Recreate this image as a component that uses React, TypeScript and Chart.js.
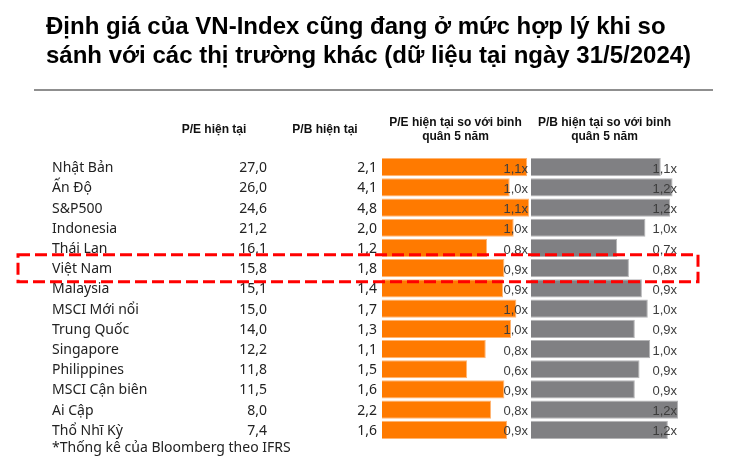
import React, { useEffect, useRef } from "react";
import { Chart, registerables } from "chart.js";

Chart.register(...registerables);

const titleLines = [
  "Định giá của VN-Index cũng đang ở mức hợp lý khi so",
  "sánh với các thị trường khác (dữ liệu tại ngày 31/5/2024)",
];

const markets = [
  "Nhật Bản",
  "Ấn Độ",
  "S&P500",
  "Indonesia",
  "Thái Lan",
  "Việt Nam",
  "Malaysia",
  "MSCI Mới nổi",
  "Trung Quốc",
  "Singapore",
  "Philippines",
  "MSCI Cận biên",
  "Ai Cập",
  "Thổ Nhĩ Kỳ",
];

const peCurrent = [27.0, 26.0, 24.6, 21.2, 16.1, 15.8, 15.1, 15.0, 14.0, 12.2, 11.8, 11.5, 8.0, 7.4];
const pbCurrent = [2.1, 4.1, 4.8, 2.0, 1.2, 1.8, 1.4, 1.7, 1.3, 1.1, 1.5, 1.6, 2.2, 1.6];
const peVs5y = [1.09, 0.96, 1.105, 0.99, 0.79, 0.92, 0.91, 1.01, 0.97, 0.78, 0.64, 0.92, 0.82, 0.94];
const pbVs5y = [1.1, 1.2, 1.18, 0.97, 0.73, 0.83, 0.94, 0.99, 0.88, 1.01, 0.92, 0.88, 1.246, 1.16];

const headerPE = "P/E hiện tại";
const headerPB = "P/B hiện tại";
const headerPERatio = ["P/E hiện tại so với binh", "quân 5 năm"];
const headerPBRatio = ["P/B hiện tại so với binh", "quân 5 năm"];
const footnote = "*Thống kê của Bloomberg theo IFRS";
const highlightMarket = "Việt Nam";

const fmt = (v: number) => v.toFixed(1).replace(".", ",");

const COL_W = 147;
const COL_GAP = 2;

const tablePlugin = {
  id: "tableText",
  afterDraw(chart: any) {
    const ctx = chart.ctx as CanvasRenderingContext2D;
    const yS = chart.scales.y;
    const xPE = chart.scales.xPE;
    const xPB = chart.scales.xPB;
    const maxPE = Math.max(...peVs5y);
    const maxPB = Math.max(...pbVs5y);
    const peRight = xPE.getPixelForValue(maxPE);
    const pbRight = xPB.getPixelForValue(maxPB);
    const peLeft = xPE.getPixelForValue(0);
    const pbLeft = xPB.getPixelForValue(0);
    ctx.save();
    ctx.textBaseline = "middle";

    // headers
    ctx.fillStyle = "#111";
    ctx.font = "bold 12px Arial, 'Liberation Sans'";
    ctx.textAlign = "center";
    ctx.fillText(headerPE, 214, 130);
    ctx.fillText(headerPB, 325, 130);
    const peMid = (peLeft + peRight) / 2;
    const pbMid = (pbLeft + pbRight) / 2;
    headerPERatio.forEach((t, k) => ctx.fillText(t, peMid, 123 + k * 13.5));
    headerPBRatio.forEach((t, k) => ctx.fillText(t, pbMid, 123 + k * 13.5));

    // rows
    markets.forEach((m, i) => {
      const y = yS.getPixelForValue(i);
      ctx.fillStyle = "#222";
      ctx.font = "14px 'Noto Sans'";
      ctx.textAlign = "left";
      ctx.fillText(m, 52, y + 1);
      ctx.textAlign = "right";
      ctx.fillText(fmt(peCurrent[i]), 267, y + 1);
      ctx.fillText(fmt(pbCurrent[i]), 377, y + 1);
      ctx.fillStyle = "#3c3c3c";
      ctx.font = "13px Arial, 'Liberation Sans'";
      ctx.fillText(fmt(peVs5y[i]) + "x", peRight - 1, y + 2);
      ctx.fillText(fmt(pbVs5y[i]) + "x", pbRight - 1, y + 2);
    });

    // footnote
    const lastY = yS.getPixelForValue(markets.length - 1);
    ctx.fillStyle = "#222";
    ctx.font = "14px 'Noto Sans'";
    ctx.textAlign = "left";
    ctx.fillText(footnote, 52, lastY + 18);

    // highlight box
    const hi = markets.indexOf(highlightMarket);
    if (hi >= 0) {
      const yc = yS.getPixelForValue(hi);
      ctx.strokeStyle = "#FF0000";
      ctx.lineWidth = 3;
      ctx.setLineDash([12, 5]);
      ctx.strokeRect(18, yc - 13.5, 680, 27);
    }
    ctx.restore();
  },
};

export default function App() {
  const ref = useRef<HTMLCanvasElement | null>(null);

  useEffect(() => {
    document.body.style.margin = "0";
    if (!ref.current) return;
    const maxPE = Math.max(...peVs5y);
    const maxPB = Math.max(...pbVs5y);
    const total = COL_W * 2 + COL_GAP;
    const chart = new Chart(ref.current, {
      type: "bar",
      data: {
        labels: markets,
        datasets: [
          {
            label: headerPERatio.join(" "),
            data: peVs5y,
            xAxisID: "xPE",
            backgroundColor: "#FF7A00",
            borderColor: "#FFB573",
            borderWidth: 1,
            grouped: false,
            barPercentage: 0.9,
            categoryPercentage: 1,
          } as any,
          {
            label: headerPBRatio.join(" "),
            data: pbVs5y,
            xAxisID: "xPB",
            backgroundColor: "#808083",
            borderColor: "#B4B4B6",
            borderWidth: 1,
            grouped: false,
            barPercentage: 0.9,
            categoryPercentage: 1,
          } as any,
        ],
      },
      options: {
        indexAxis: "y",
        responsive: false,
        animation: false,
        layout: { padding: { left: 382, right: 750 - 382 - total, top: 157, bottom: 27 } },
        plugins: { legend: { display: false }, tooltip: { enabled: false }, title: { display: false } },
        scales: {
          y: { display: false },
          xPE: { type: "linear", display: false, min: 0, max: (maxPE * total) / COL_W },
          xPB: { type: "linear", display: false, min: (-maxPB * (COL_W + COL_GAP)) / COL_W, max: maxPB },
        },
      } as any,
      plugins: [tablePlugin],
    });
    return () => chart.destroy();
  }, []);

  return (
    <div style={{ position: "fixed", left: 0, top: 0, width: 750, height: 467, background: "#fff", overflow: "hidden" }}>
      <canvas ref={ref} width={750} height={467} style={{ position: "absolute", left: 0, top: 0, width: 750, height: 467 }} />
      <div
        style={{
          position: "absolute",
          left: 46,
          top: 11,
          font: "bold 24px Arial, 'Liberation Sans', sans-serif",
          lineHeight: "29px",
          color: "#000",
          whiteSpace: "nowrap",
        }}
      >
        {titleLines.map((t, i) => (
          <div key={i}>{t}</div>
        ))}
      </div>
      <div style={{ position: "absolute", left: 34, top: 89, width: 679, height: 2, background: "#8f8f8f" }} />
    </div>
  );
}
